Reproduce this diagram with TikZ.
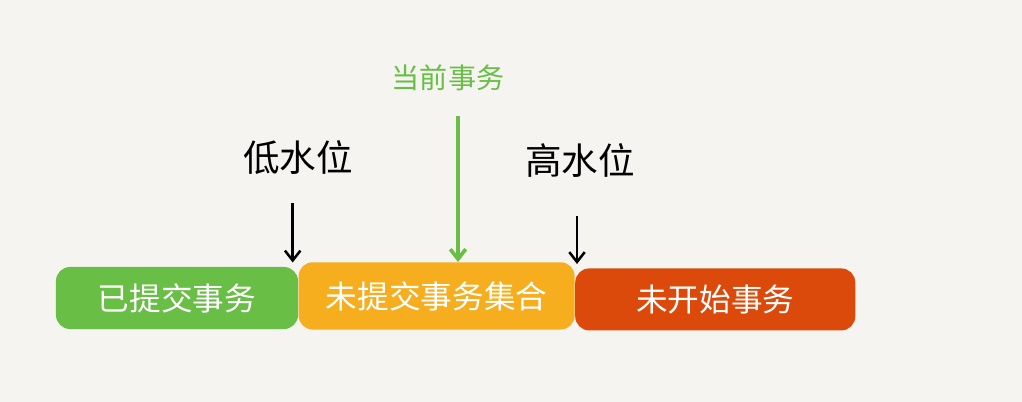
\documentclass[tikz,border=0pt]{standalone}
\usepackage{fontspec}
\setmainfont{Noto Sans CJK SC}
\usetikzlibrary{positioning, arrows.meta}
\definecolor{paper}{HTML}{F5F4F0}
\definecolor{donegreen}{HTML}{69BE45}
\definecolor{openorange}{HTML}{F6AE1E}
\definecolor{todored}{HTML}{DC4A0B}
\tikzset{
  x=0.025cm, y=-0.025cm,
  box/.style={
    rounded corners=10pt, text=white, inner sep=0pt,
    minimum height=1.55cm, font=\fontsize{22.5}{22.5}\selectfont
  },
  mark label/.style={font=\fontsize{26}{26}\selectfont},
  pointer/.style={-{Straight Barb[length=7pt,width=11pt]}, line width=1.8pt},
  semithick
}

\begin{document}
\begin{tikzpicture}
      \fill[paper] (0,0) rectangle (1022,402);
      \useasboundingbox (0,0) rectangle (1022,402);

      \node[box, fill=donegreen, minimum width=6.05cm] (done) at (177,298) {已提交事务};
      \node[box, fill=openorange, minimum width=6.9cm, minimum height=1.68cm,
            right = 0pt of done, yshift=1.5pt] (open) {未提交事务集合};
      \node[box, fill=todored, minimum width=7cm, right = 0pt of open, yshift=-2.5pt] (todo) {未开始事务};

      \node[mark label, text=donegreen, font=\fontsize{20}{20}\selectfont] (cur) at (448,78) {当前事务};
      \node[mark label] (low) at (298,158) {低水位};
      \node[mark label] (high) at (580,160) {高水位};

      % arrows drop onto the joints between the boxes
      \coordinate (lowtip) at ([xshift=-4pt, yshift=3pt]done.north east);
      \draw[pointer, donegreen, line width=2.6pt] (cur.south -| 458,0) ++(0,-14pt) -- (458,262);
      \draw[pointer] (lowtip |- 0,203) -- (lowtip);
      \draw[pointer] ([yshift=-24pt]high.south -| 577,0) -- (577,264);
    \end{tikzpicture}
\end{document}
